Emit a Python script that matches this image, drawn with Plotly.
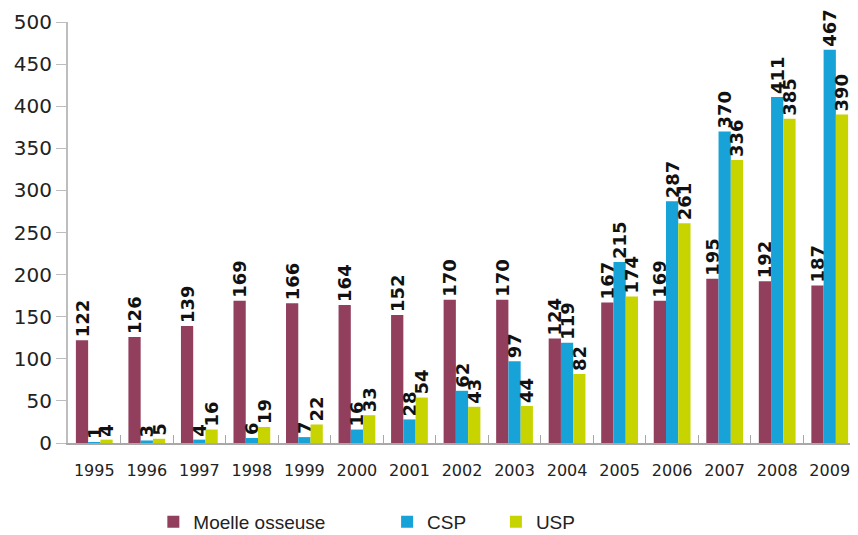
import plotly.graph_objects as go

# Greffes de cellules souches par source, 1995-2009
years = ["1995", "1996", "1997", "1998", "1999", "2000", "2001", "2002",
         "2003", "2004", "2005", "2006", "2007", "2008", "2009"]
moelle = [122, 126, 139, 169, 166, 164, 152, 170, 170, 124, 167, 169, 195, 192, 187]
csp = [1, 3, 4, 6, 7, 16, 28, 62, 97, 119, 215, 287, 370, 411, 467]
usp = [4, 5, 16, 19, 22, 33, 54, 43, 44, 82, 174, 261, 336, 385, 390]

# the page body has an 8px margin, so the figure is 8px smaller than the window
series = [
    ("Moelle osseuse", moelle, "#923f5e", "legend", 0.171),
    ("CSP", csp, "#17a2d8", "legend2", 0.446),
    ("USP", usp, "#c8d400", "legend3", 0.574),
]

fig = go.Figure()
for name, vals, col, leg, lx in series:
    fig.add_trace(go.Bar(
        x=years, y=vals, name=name,
        marker=dict(color=col, line=dict(width=0)),
        text=vals, textposition="outside", textangle=-90,
        textfont=dict(family="DejaVu Sans", size=18, color="#111111", weight="bold"),
        constraintext="none", cliponaxis=False,
        legend=leg,
    ))

legend_style = dict(orientation="h", xref="container", yref="container",
                    y=0.025, yanchor="middle", xanchor="left",
                    font=dict(family="Liberation Sans", size=19, color="#222222"),
                    bgcolor="rgba(0,0,0,0)")

fig.update_layout(
    width=850, height=527,
    barmode="group", bargap=0.3, bargroupgap=0,
    margin=dict(l=60, r=2, t=12, b=92, pad=0),
    plot_bgcolor="white", paper_bgcolor="white",
    font=dict(family="DejaVu Sans", color="#222222"),
    legend=dict(legend_style, x=series[0][4]),
    legend2=dict(legend_style, x=series[1][4]),
    legend3=dict(legend_style, x=series[2][4]),
    showlegend=True,
)

fig.update_yaxes(range=[0, 500], dtick=50, showgrid=False, zeroline=False,
                 showline=True, linecolor="#bdbdbd", linewidth=2,
                 ticks="outside", ticklen=10, tickcolor="#bdbdbd", tickwidth=1,
                 tickfont=dict(family="DejaVu Sans", size=20, color="#222222"))
fig.update_xaxes(showgrid=False, showline=True, linecolor="#a8a8a8", linewidth=2,
                 ticks="inside", tickson="boundaries", ticklen=8,
                 tickcolor="#a8a8a8", tickwidth=1, ticklabelstandoff=12,
                 tickfont=dict(family="DejaVu Sans", size=16, color="#222222"))

fig.write_html("out.html")
